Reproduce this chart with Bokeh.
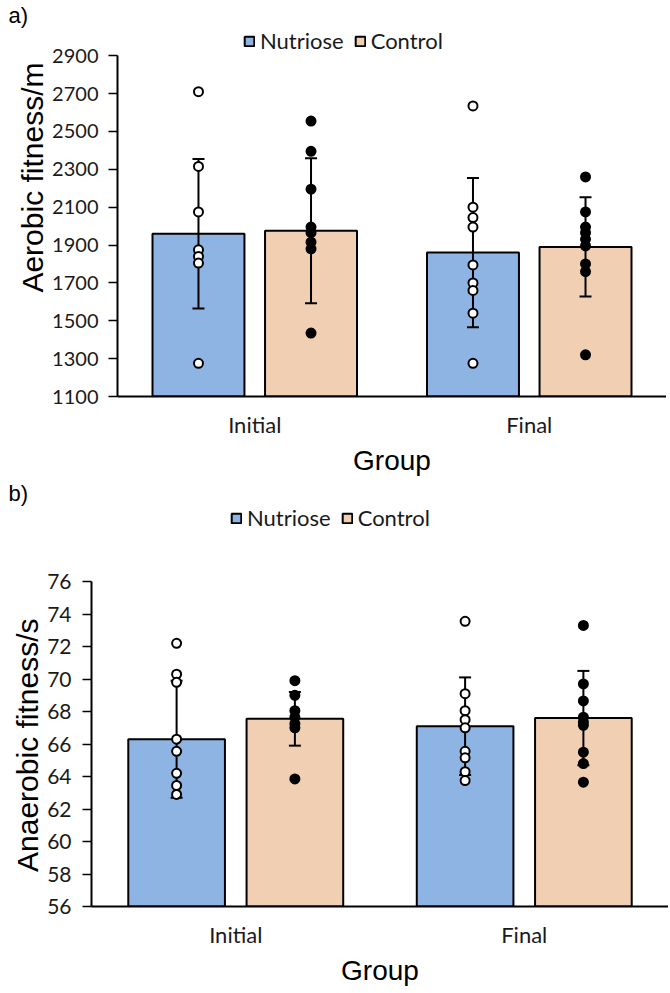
from bokeh.plotting import figure
from bokeh.models import (FactorRange, Range1d, ColumnDataSource, Legend, LegendItem,
                          Title, FixedTicker)
from bokeh.transform import dodge
from bokeh.embed import file_html
from bokeh.resources import INLINE

groups = ["Initial", "Final"]
series = ["Nutriose", "Control"]
colors = ["#8EB4E3", "#F1CFB3"]

# ---- panel a: aerobic fitness (m) ----
aer_nut_mean = [1960, 1860]
aer_nut_sd = [395, 394]
aer_con_mean = [1975, 1890]
aer_con_sd = [383, 262]
aer_nut_initial = [2710, 2315, 2075, 1875, 1840, 1805, 1275]
aer_nut_final = [2635, 2100, 2045, 1995, 1795, 1700, 1660, 1540, 1275]
aer_con_initial = [2555, 2395, 2195, 1995, 1965, 1915, 1880, 1435]
aer_con_final = [2260, 2075, 1995, 1965, 1930, 1895, 1800, 1760, 1320]
aer_ticks = [1100, 1300, 1500, 1700, 1900, 2100, 2300, 2500, 2700, 2900]

# ---- panel b: anaerobic fitness (s) ----
ana_nut_mean = [66.3, 67.1]
ana_nut_sd = [3.6, 3.0]
ana_con_mean = [67.55, 67.6]
ana_con_sd = [1.65, 2.9]
ana_nut_initial = [72.2, 70.3, 69.8, 66.3, 65.55, 64.2, 63.45, 62.9]
ana_nut_final = [73.55, 69.1, 68.05, 67.5, 67.0, 65.55, 65.15, 64.3, 63.75]
ana_con_initial = [69.9, 69.0, 68.05, 67.65, 67.25, 67.0, 63.85]
ana_con_final = [73.3, 69.7, 68.65, 67.65, 67.35, 67.15, 65.5, 64.8, 63.65]
ana_ticks = [56, 58, 60, 62, 64, 66, 68, 70, 72, 74, 76]

OFF = 0.205
BAR_W = 0.335
CAL = "Lato"
ARIAL = "Liberation Sans"


def make_panel(tag, ylabel, ylabel_offset, ticks, y_end,
               nut_mean, nut_sd, con_mean, con_sd, nut_pts, con_pts,
               border_left, frame_w, border_top, frame_h, border_bottom,
               legend_x, legend_y, tick_size, tick_standoff):
    y0 = ticks[0]
    p = figure(x_range=FactorRange(factors=groups, range_padding=0),
               y_range=Range1d(y0, y_end),
               frame_width=frame_w, frame_height=frame_h,
               min_border_left=border_left, min_border_right=0,
               min_border_top=border_top, min_border_bottom=border_bottom,
               output_backend="svg", toolbar_location=None, title=None)
    p.xgrid.visible = False
    p.ygrid.visible = False
    p.outline_line_color = None

    bars = []
    specs = [(-OFF, nut_mean, nut_sd, nut_pts, colors[0], "white"),
             (OFF, con_mean, con_sd, con_pts, colors[1], "black")]
    for off, mean, sd, pts, col, dotfill in specs:
        src = ColumnDataSource(dict(
            g=groups, mean=mean,
            upper=[m + s for m, s in zip(mean, sd)],
            lower=[m - s for m, s in zip(mean, sd)]))
        xs = dodge("g", off, range=p.x_range)
        r = p.vbar(x=xs, top="mean", bottom=y0, width=BAR_W, source=src,
                   fill_color=col, line_color="black", line_width=2)
        bars.append(r)
        p.segment(x0=xs, y0="lower", x1=xs, y1="upper", source=src,
                  line_color="black", line_width=2)
        p.scatter(x=xs, y="upper", source=src, marker="dash", size=12,
                  line_color="black", line_width=2)
        p.scatter(x=xs, y="lower", source=src, marker="dash", size=12,
                  line_color="black", line_width=2)
        gx, gy = [], []
        for g, vals in zip(groups, pts):
            gx += [g] * len(vals)
            gy += vals
        psrc = ColumnDataSource(dict(g=gx, v=gy))
        p.scatter(x=dodge("g", off, range=p.x_range), y="v", source=psrc,
                  marker="circle", size=9, fill_color=dotfill,
                  line_color="black", line_width=2)

    p.yaxis.ticker = FixedTicker(ticks=ticks)
    p.yaxis.bounds = (ticks[0], ticks[-1])
    p.yaxis.minor_tick_line_color = None
    p.yaxis.major_tick_out = 9
    p.yaxis.major_tick_in = 0
    p.yaxis.major_tick_line_color = "black"
    p.yaxis.major_tick_line_width = 1.5
    p.yaxis.axis_line_color = "black"
    p.yaxis.axis_line_width = 2
    p.yaxis.major_label_text_font = CAL
    p.yaxis.major_label_text_font_size = tick_size
    p.yaxis.major_label_text_color = "#1a1a1a"
    p.yaxis.major_label_standoff = tick_standoff

    p.xaxis.major_tick_line_color = None
    p.xaxis.minor_tick_line_color = None
    p.xaxis.axis_line_color = "black"
    p.xaxis.axis_line_width = 2
    p.xaxis.major_label_text_font = CAL
    p.xaxis.major_label_text_font_size = "22px"
    p.xaxis.major_label_text_color = "#1a1a1a"
    p.xaxis.major_label_standoff = 8
    p.xaxis.axis_label = "Group"
    p.xaxis.axis_label_text_font = ARIAL
    p.xaxis.axis_label_text_font_size = "28px"
    p.xaxis.axis_label_text_font_style = "normal"
    p.xaxis.axis_label_text_color = "black"
    p.xaxis.axis_label_standoff = 4

    yt = Title(text=ylabel, align="right", offset=ylabel_offset,
               text_font=ARIAL, text_font_size="30px",
               text_font_style="normal", text_color="black", standoff=2)
    p.add_layout(yt, "left")

    legend = Legend(items=[LegendItem(label=series[0], renderers=[bars[0]]),
                           LegendItem(label=series[1], renderers=[bars[1]])],
                    location=(legend_x, legend_y),
                    orientation="horizontal", glyph_width=12, glyph_height=12,
                    label_text_font=CAL, label_text_font_size="22px",
                    label_text_line_height=1.0,
                    label_text_color="#1a1a1a",
                    label_standoff=5, spacing=10, padding=0, margin=0,
                    border_line_color=None, background_fill_alpha=0,
                    label_height=20)
    p.add_layout(legend, "center")

    tt = Title(text=tag, align="left", offset=-(border_left - 8),
               text_font=ARIAL, text_font_size="22px",
               text_font_style="normal", text_color="black", standoff=0)
    p.add_layout(tt, "above")
    return p


pa = make_panel("a)", "Aerobic fitness/m", 35, aer_ticks, 3049,
                aer_nut_mean, aer_nut_sd, aer_con_mean, aer_con_sd,
                [aer_nut_initial, aer_nut_final], [aer_con_initial, aer_con_final],
                border_left=117, frame_w=549, border_top=26, frame_h=369,
                border_bottom=80, legend_x=126, legend_y=342, tick_size="20px",
                tick_standoff=10)

pb = make_panel("b)", "Anaerobic fitness/s", 113, ana_ticks, 80.68,
                ana_nut_mean, ana_nut_sd, ana_con_mean, ana_con_sd,
                [ana_nut_initial, ana_nut_final], [ana_con_initial, ana_con_final],
                border_left=91, frame_w=577, border_top=25, frame_h=401,
                border_bottom=82, legend_x=139, legend_y=375, tick_size="21px",
                tick_standoff=11)

open("out.html", "w").write(file_html([pa, pb], INLINE))
